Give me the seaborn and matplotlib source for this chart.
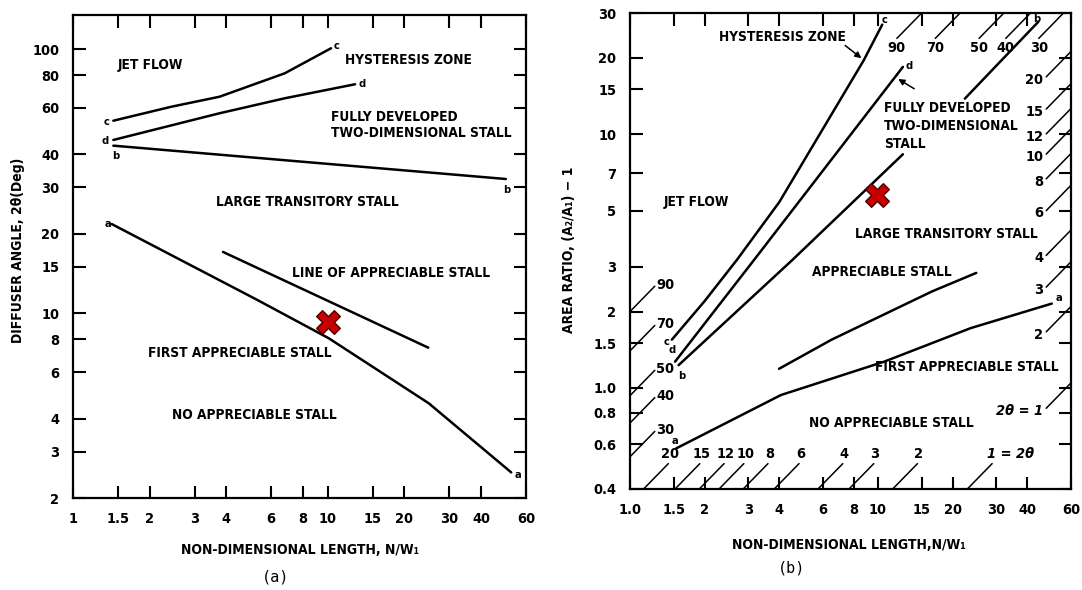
import numpy as np
import pandas as pd
import matplotlib
matplotlib.use("Agg")
import matplotlib.pyplot as plt
import seaborn as sns
from matplotlib.ticker import NullLocator
from matplotlib import font_manager as fm

# ---------------- panel (a) data ----------------
a_c_x = [1.44, 2.44, 3.76, 6.78, 10.3]
a_c_y = [53.7, 60.7, 66.2, 81.2, 101.0]
a_d_x = [1.44, 3.76, 6.78, 12.8]
a_d_y = [45.4, 57.3, 65.3, 73.8]
a_b_x = [1.44, 50.0]
a_b_y = [43.2, 32.3]
a_a_x = [1.42, 5.29, 10.1, 24.9, 52.5]
a_a_y = [21.8, 11.25, 8.05, 4.57, 2.5]
a_app_x = [3.88, 24.8]
a_app_y = [17.1, 7.42]
a_mark_x = [10.0]
a_mark_y = [9.26]
a_xticks = [1, 1.5, 2, 3, 4, 6, 8, 10, 15, 20, 30, 40, 60]
a_xlabels = ["1", "1.5", "2", "3", "4", "6", "8", "10", "15", "20", "30", "40", "60"]
a_yticks = [2, 3, 4, 6, 8, 10, 15, 20, 30, 40, 60, 80, 100]
a_ylabels = ["2", "3", "4", "6", "8", "10", "15", "20", "30", "40", "60", "80", "100"]

# ---------------- panel (b) data ----------------
b_c_x = [1.475, 2.0, 2.7, 4.0, 8.75, 10.4]
b_c_y = [1.55, 2.2, 3.2, 5.4, 19.5, 27.0]
b_d_x = [1.52, 3.16, 12.6]
b_d_y = [1.27, 3.19, 18.4]
b_b_lo_x = [1.57, 4.51, 12.6]
b_b_lo_y = [1.23, 3.19, 8.33]
b_b_hi_x = [22.4, 44.3]
b_b_hi_y = [13.8, 27.7]
b_a_x = [1.535, 4.06, 10.6, 23.6, 50.2]
b_a_y = [0.578, 0.938, 1.27, 1.72, 2.15]
b_app_x = [3.99, 6.5, 10.6, 16.5, 24.9]
b_app_y = [1.19, 1.55, 1.95, 2.4, 2.84]
b_mark_x = [9.89]
b_mark_y = [5.74]
b_xticks = [1, 1.5, 2, 3, 4, 6, 8, 10, 15, 20, 30, 40, 60]
b_xlabels = ["1.0", "1.5", "2", "3", "4", "6", "8", "10", "15", "20", "30", "40", "60"]
b_yticks = [0.4, 0.6, 0.8, 1.0, 1.5, 2, 3, 5, 7, 10, 15, 20, 30]
b_ylabels = ["0.4", "0.6", "0.8", "1.0", "1.5", "2", "3", "5", "7", "10", "15", "20", "30"]

# constant diffuser-angle (2θ) guide lines on the borders of panel (b)
hatch_bottom = [20, 15, 12, 10, 8, 6, 4, 3, 2, 1]
hatch_bottom_lbl = ["20", "15", "12", "10", "8", "6", "4", "3", "2", "1 = 2θ"]
hatch_left = [90, 70, 50, 40, 30]
hatch_top = [90, 70, 50, 40, 30]
hatch_right = [20, 15, 12, 10, 8, 6, 4, 3, 2, 1]
hatch_right_lbl = ["20", "15", "12", "10", "8", "6", "4", "3", "2", "2θ = 1"]

# ---------------- font selection (narrow bold face if available) ----------------
ttf = fm.fontManager.ttflist
names = {f.name for f in ttf}
STRETCH = "normal"
BASE = None
for cand in ["Liberation Sans Narrow", "DejaVu Sans Condensed", "Arial Narrow"]:
    if cand in names:
        BASE = cand
        break
if BASE is None:
    if any(f.name == "DejaVu Sans" and str(f.stretch) in ("condensed", "semi-condensed")
           for f in ttf):
        BASE = "DejaVu Sans"
        STRETCH = "condensed"
    elif "Liberation Sans" in names:
        BASE = "Liberation Sans"
    else:
        BASE = "DejaVu Sans"
FAM = [BASE, "DejaVu Sans"]

sns.set_theme(style="ticks")
plt.rcParams["font.family"] = FAM
plt.rcParams["font.weight"] = "bold"
plt.rcParams["font.stretch"] = STRETCH
plt.rcParams["axes.linewidth"] = 1.6
plt.rcParams["axes.edgecolor"] = "black"

W, H = 1082, 590
fig = plt.figure(figsize=(W / 100, H / 100), dpi=100)
fig.patch.set_facecolor("white")

# scale text so that its width matches the narrow lettering of the reference
renderer = fig.canvas.get_renderer()
_probe = fig.text(0, 0, "LARGE TRANSITORY STALL", fontsize=10, fontweight="bold",
                  family=FAM, fontstretch=STRETCH)
_w = _probe.get_window_extent(renderer).width
_probe.remove()
SCALE = min(1.05, 182.0 / _w)
FS = 10 * SCALE          # region labels
TS = 10.6 * SCALE        # tick labels
AS = 10.2 * SCALE        # axis titles

ax1 = fig.add_axes([73 / W, 1 - 498 / H, (526 - 73) / W, (498 - 15) / H])
ax2 = fig.add_axes([630 / W, 1 - 489 / H, (1071 - 630) / W, (489 - 13) / H])

LW = 1.8
TXT = dict(fontsize=FS, fontweight="bold", color="black", fontstretch=STRETCH)
SMALL = dict(fontsize=8, fontweight="bold", color="black")


def style_axes(ax, xt, xl, yt, yl, xlim, ylim):
    ax.set_xscale("log")
    ax.set_yscale("log")
    ax.set_xlim(*xlim)
    ax.set_ylim(*ylim)
    ax.set_xticks(xt)
    ax.set_xticklabels(xl)
    ax.set_yticks(yt)
    ax.set_yticklabels(yl)
    ax.xaxis.set_minor_locator(NullLocator())
    ax.yaxis.set_minor_locator(NullLocator())
    ax.tick_params(which="major", direction="in", length=9, width=1.5,
                   top=True, right=True, labeltop=False, labelright=False,
                   labelsize=TS, pad=10, colors="black")
    for lab in ax.get_xticklabels() + ax.get_yticklabels():
        lab.set_fontweight("bold")
        lab.set_fontstretch(STRETCH)
    for s in ax.spines.values():
        s.set_visible(True)
        s.set_color("black")
        s.set_linewidth(1.6)
    ax.set_facecolor("white")
    ax.set_xlabel("")
    ax.set_ylabel("")
    if ax.get_legend():
        ax.get_legend().remove()


def curve(ax, x, y):
    sns.lineplot(x=x, y=y, ax=ax, color="black", lw=LW, sort=False,
                 estimator=None, legend=False)


# ---------------- panel (a) ----------------
for xs, ys in [(a_c_x, a_c_y), (a_d_x, a_d_y), (a_b_x, a_b_y),
               (a_a_x, a_a_y), (a_app_x, a_app_y)]:
    curve(ax1, xs, ys)
sns.scatterplot(x=a_mark_x, y=a_mark_y, ax=ax1, marker="X", s=290,
                color="#c40000", edgecolor="#4a0000", linewidth=1.0, zorder=5)
style_axes(ax1, a_xticks, a_xlabels, a_yticks, a_ylabels, (1, 60), (2, 135))

ax1.text(2.02, 87.3, "JET FLOW", ha="center", va="center", **TXT)
ax1.text(20.7, 91.2, "HYSTERESIS ZONE", ha="center", va="center", **TXT)
ax1.text(10.3, 55.6, "FULLY DEVELOPED", ha="left", va="center", **TXT)
ax1.text(10.3, 48.1, "TWO-DIMENSIONAL STALL", ha="left", va="center", **TXT)
ax1.text(8.29, 26.5, "LARGE TRANSITORY STALL", ha="center", va="center", **TXT)
ax1.text(17.7, 14.2, "LINE OF APPRECIABLE STALL", ha="center", va="center", **TXT)
ax1.text(4.53, 7.07, "FIRST APPRECIABLE STALL", ha="center", va="center", **TXT)
ax1.text(5.13, 4.13, "NO APPRECIABLE STALL", ha="center", va="center", **TXT)
for (x, y, s) in [(1.35, 53.0, "c"), (10.8, 103, "c"), (1.34, 45.0, "d"),
                  (13.6, 74.0, "d"), (1.47, 39.6, "b"), (50.4, 29.4, "b"),
                  (1.37, 21.8, "a"), (56.0, 2.45, "a")]:
    ax1.text(x, y, s, ha="center", va="center", **SMALL)

# ---------------- panel (b) ----------------
for xs, ys in [(b_c_x, b_c_y), (b_d_x, b_d_y), (b_b_lo_x, b_b_lo_y),
               (b_b_hi_x, b_b_hi_y), (b_a_x, b_a_y), (b_app_x, b_app_y)]:
    curve(ax2, xs, ys)
sns.scatterplot(x=b_mark_x, y=b_mark_y, ax=ax2, marker="X", s=290,
                color="#c40000", edgecolor="#4a0000", linewidth=1.0, zorder=5)
style_axes(ax2, b_xticks, b_xlabels, b_yticks, b_ylabels, (1, 60), (0.4, 30))

SEG = 10 ** 0.1
HLW = 1.1
HATCH = dict(fontsize=TS, fontweight="bold", color="black", fontstretch=STRETCH)


def k_of(ang):
    return 2 * np.tan(np.radians(ang / 2.0))


for ang, lbl in zip(hatch_bottom, hatch_bottom_lbl):
    x0 = 0.4 / k_of(ang)
    ax2.plot([x0, x0 * SEG], [0.4, 0.4 * SEG], color="black", lw=HLW)
    if "=" in lbl:
        ax2.annotate(lbl, (x0 * SEG, 0.4 * SEG), xytext=(-4, 2),
                     textcoords="offset points", ha="left", va="bottom",
                     fontstyle="italic", **HATCH)
    else:
        ax2.annotate(lbl, (x0 * SEG, 0.4 * SEG), xytext=(1, 2),
                     textcoords="offset points", ha="center", va="bottom", **HATCH)

for ang in hatch_left:
    y0 = k_of(ang)
    ax2.plot([1, SEG], [y0, y0 * SEG], color="black", lw=HLW)
    ax2.annotate(str(ang), (SEG, y0 * SEG), xytext=(1, 1),
                 textcoords="offset points", ha="left", va="center", **HATCH)

for ang in hatch_top:
    x0 = 30 / k_of(ang)
    ax2.plot([x0 / SEG, x0], [30 / SEG, 30], color="black", lw=HLW)
    ax2.annotate(str(ang), (x0 / SEG, 30 / SEG), xytext=(0, -2),
                 textcoords="offset points", ha="center", va="top", **HATCH)

for ang, lbl in zip(hatch_right, hatch_right_lbl):
    y0 = 60 * k_of(ang)
    ax2.plot([60 / SEG, 60], [y0 / SEG, y0], color="black", lw=HLW)
    kw = dict(fontstyle="italic") if "=" in lbl else {}
    ax2.annotate(lbl, (60 / SEG, y0 / SEG), xytext=(-2, -2),
                 textcoords="offset points", ha="right", va="center", **kw, **HATCH)

ax2.text(4.12, 24.2, "HYSTERESIS ZONE", ha="center", va="center", **TXT)
ax2.annotate("", xy=(8.75, 19.6), xytext=(7.22, 22.7),
             arrowprops=dict(arrowstyle="-|>", color="black", lw=1.1,
                             mutation_scale=9))
ax2.text(10.6, 12.65, "FULLY DEVELOPED", ha="left", va="center", **TXT)
ax2.text(10.6, 10.8, "TWO-DIMENSIONAL", ha="left", va="center", **TXT)
ax2.text(10.6, 9.18, "STALL", ha="left", va="center", **TXT)
ax2.annotate("", xy=(11.8, 16.7), xytext=(14.3, 14.9),
             arrowprops=dict(arrowstyle="-|>", color="black", lw=1.1,
                             mutation_scale=9))
ax2.text(1.85, 5.41, "JET FLOW", ha="center", va="center", **TXT)
ax2.text(18.8, 4.06, "LARGE TRANSITORY STALL", ha="center", va="center", **TXT)
ax2.text(10.4, 2.87, "APPRECIABLE STALL", ha="center", va="center", **TXT)
ax2.text(22.9, 1.21, "FIRST APPRECIABLE STALL", ha="center", va="center", **TXT)
ax2.text(11.3, 0.725, "NO APPRECIABLE STALL", ha="center", va="center", **TXT)
for (x, y, s) in [(1.40, 1.52, "c"), (1.475, 1.41, "d"), (1.62, 1.11, "b"),
                  (1.52, 0.62, "a"), (10.6, 28.2, "c"), (13.3, 18.6, "d"),
                  (43.6, 28.4, "b"), (53.5, 2.27, "a")]:
    ax2.text(x, y, s, ha="center", va="center", **SMALL)

# ---------------- axis titles ----------------
ATX = dict(fontsize=AS, fontweight="bold", color="black", fontstretch=STRETCH)
fig.text(18 / W, 1 - 250 / H, "DIFFUSER ANGLE, 2θ(Deg)", rotation=90,
         ha="center", va="center", **ATX)
fig.text(300 / W, 1 - 550 / H, "NON-DIMENSIONAL LENGTH, N/W₁",
         ha="center", va="center", **ATX)
fig.text(276 / W, 1 - 577 / H, "(a)", ha="center", va="center",
         fontsize=11, color="black", family=["DejaVu Sans Mono", "DejaVu Sans"],
         fontweight="normal")
fig.text(569 / W, 1 - 250 / H, "AREA RATIO, (A₂/A₁) − 1", rotation=90,
         ha="center", va="center", **ATX)
fig.text(849 / W, 1 - 545 / H, "NON-DIMENSIONAL LENGTH,N/W₁",
         ha="center", va="center", **ATX)
fig.text(792 / W, 1 - 568 / H, "(b)", ha="center", va="center",
         fontsize=11, color="black", family=["DejaVu Sans Mono", "DejaVu Sans"],
         fontweight="normal")

fig.savefig("out.png", dpi=100, facecolor="white")
